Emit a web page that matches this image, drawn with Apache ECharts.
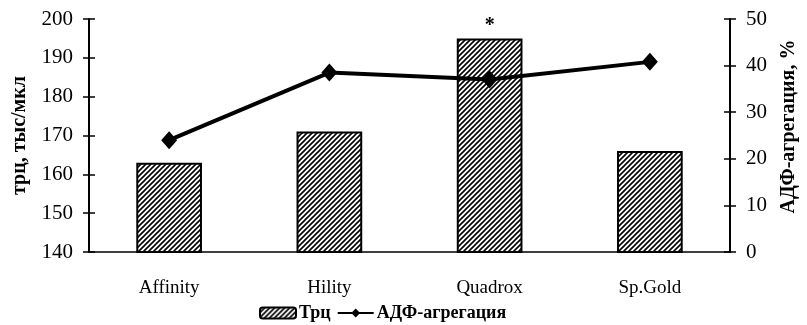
<!DOCTYPE html>
<html>
<head>
<meta charset="utf-8">
<script src="https://cdn.jsdelivr.net/npm/echarts@6/dist/echarts.min.js"></script>
<style>
  html, body { margin: 0; padding: 0; background: #fff; }
  #chart { width: 807px; height: 325px; }
</style>
</head>
<body>
<div id="chart"></div>
<script>
// Devices compared
const categories = ['Affinity', 'Hility', 'Quadrox', 'Sp.Gold'];
// Platelet count, thousand/µl (left axis)
const plateletValues = [163, 171, 195, 166];
// ADP-induced aggregation, % (right axis)
const aggregationValues = [24, 38.5, 37, 40.8];
// Which bar carries the significance mark
const markedCategory = 'Quadrox';

const leftTicks = { min: 140, max: 200, interval: 10 };
const rightTicks = { min: 0, max: 50, interval: 10 };

const FONT = '"Liberation Serif", "Times New Roman", serif';

// Diagonal hatch fill for the bars
function hatchPattern() {
  const s = 5;
  const c = document.createElement('canvas');
  c.width = s; c.height = s;
  const g = c.getContext('2d');
  g.fillStyle = '#fff';
  g.fillRect(0, 0, s, s);
  g.strokeStyle = '#000';
  g.lineWidth = 1.6;
  g.beginPath();
  g.moveTo(-1, s + 1); g.lineTo(s + 1, -1);
  g.moveTo(-1, 1); g.lineTo(1, -1);
  g.moveTo(s - 1, s + 1); g.lineTo(s + 1, s - 1);
  g.stroke();
  return c;
}

const hatch = { image: hatchPattern(), repeat: 'repeat' };

const chart = echarts.init(document.getElementById('chart'), null, { renderer: 'canvas' });

const axisLine = { show: true, lineStyle: { color: '#000', width: 2 } };
const tickLabel = { color: '#000', fontFamily: FONT, fontSize: 21 };
const nameStyle = { color: '#000', fontFamily: FONT, fontSize: 20, fontWeight: 'bold' };

// Ticks cross the axis line: one axis draws the outer half, a twin draws the inner half
function valueAxis(pos, range, withLabels, inside, extra) {
  return Object.assign({
    type: 'value',
    position: pos,
    min: range.min, max: range.max, interval: range.interval,
    axisLine: withLabels ? axisLine : { show: false },
    axisTick: { show: true, inside: inside, length: 6, lineStyle: { color: '#000', width: 1.5 } },
    axisLabel: withLabels ? Object.assign({ margin: 16 }, tickLabel) : { show: false },
    splitLine: { show: false }
  }, extra || {});
}

chart.setOption({
  animation: false,
  backgroundColor: '#fff',
  grid: { left: 89, right: 72, top: 19, bottom: 73 },
  xAxis: {
    type: 'category',
    data: categories,
    axisLine: { show: true, lineStyle: { color: '#000', width: 1.5 } },
    axisTick: { show: false },
    axisLabel: { color: '#000', fontFamily: FONT, fontSize: 19, margin: 27 }
  },
  yAxis: [
    valueAxis('left', leftTicks, true, false, {
      name: 'трц, тыс/мкл', nameLocation: 'middle', nameGap: 59, nameRotate: 90, nameTextStyle: nameStyle
    }),
    valueAxis('right', rightTicks, true, false, {
      name: 'АДФ-агрегация, %', nameLocation: 'middle', nameGap: 49, nameRotate: 90,
      nameTextStyle: Object.assign({ padding: [0, 0, 0, 18] }, nameStyle)
    }),
    valueAxis('left', leftTicks, false, true),
    valueAxis('right', rightTicks, false, true)
  ],
  legend: {
    bottom: -2,
    left: 254,
    itemGap: 6,
    itemWidth: 36,
    itemHeight: 11,
    textStyle: { color: '#000', fontFamily: FONT, fontSize: 18, fontWeight: 'bold', padding: [0, 0, 0, -2] },
    data: [
      { name: 'Трц' },
      { name: 'АДФ-агрегация' }
    ]
  },
  series: [
    {
      name: 'Трц',
      type: 'bar',
      yAxisIndex: 0,
      barWidth: '41%',
      itemStyle: { color: hatch, borderColor: '#000', borderWidth: 2 },
      data: plateletValues.map((v, i) => categories[i] === markedCategory
        ? { value: v, label: { show: true, position: 'top', distance: 3, formatter: '*', color: '#000', fontFamily: FONT, fontSize: 20, fontWeight: 'bold' } }
        : v),
      z: 2
    },
    {
      name: 'АДФ-агрегация',
      type: 'line',
      yAxisIndex: 1,
      data: aggregationValues,
      symbol: 'diamond',
      symbolSize: [16, 18],
      lineStyle: { color: '#000', width: 4 },
      itemStyle: { color: '#000' },
      z: 3
    }
  ]
});
</script>
</body>
</html>
